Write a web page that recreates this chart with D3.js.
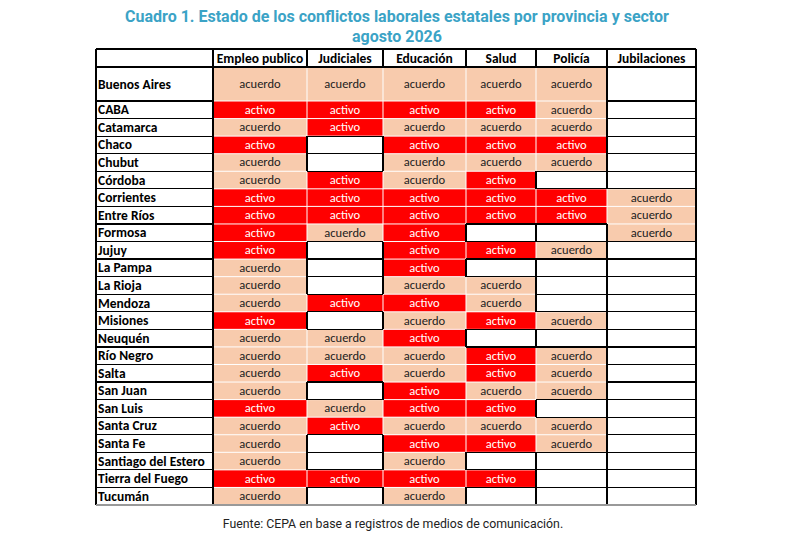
<!DOCTYPE html>
<html>
<head>
<meta charset="utf-8">
<script src="https://cdn.jsdelivr.net/npm/d3@7"></script>
<style>
  body { margin: 0; background: #fff; }
  svg { display: block; }
</style>
</head>
<body>
<div id="chart"></div>
<script>
// sectores (columnas) y provincias (filas)
var sectores = ['Empleo publico', 'Judiciales', 'Educación', 'Salud', 'Policía', 'Jubilaciones'];
var provincias = ['Buenos Aires', 'CABA', 'Catamarca', 'Chaco', 'Chubut', 'Córdoba', 'Corrientes',
  'Entre Ríos', 'Formosa', 'Jujuy', 'La Pampa', 'La Rioja', 'Mendoza', 'Misiones', 'Neuquén',
  'Río Negro', 'Salta', 'San Juan', 'San Luis', 'Santa Cruz', 'Santa Fe', 'Santiago del Estero',
  'Tierra del Fuego', 'Tucumán'];

// estado por sector, en el orden de provincias
var empleoPublico = ['acuerdo','activo','acuerdo','activo','acuerdo','acuerdo','activo','activo','activo','activo','acuerdo','acuerdo','acuerdo','activo','acuerdo','acuerdo','acuerdo','acuerdo','activo','acuerdo','acuerdo','acuerdo','activo','acuerdo'];
var judiciales    = ['acuerdo','activo','activo','','','activo','activo','activo','acuerdo','','','','activo','','acuerdo','acuerdo','activo','','acuerdo','activo','','','activo',''];
var educacion     = ['acuerdo','activo','acuerdo','activo','acuerdo','acuerdo','activo','activo','activo','activo','activo','acuerdo','activo','acuerdo','activo','acuerdo','acuerdo','activo','activo','acuerdo','activo','acuerdo','activo','acuerdo'];
var salud         = ['acuerdo','activo','acuerdo','activo','acuerdo','activo','activo','activo','','activo','','acuerdo','acuerdo','activo','','activo','activo','acuerdo','activo','acuerdo','activo','','activo',''];
var policia       = ['acuerdo','acuerdo','acuerdo','activo','acuerdo','','activo','activo','','acuerdo','','','','acuerdo','','acuerdo','acuerdo','acuerdo','','acuerdo','acuerdo','','',''];
var jubilaciones  = ['','','','','','','acuerdo','acuerdo','acuerdo','','','','','','','','','','','','','','',''];

var valores = [empleoPublico, judiciales, educacion, salud, policia, jubilaciones];

var titulo = ['Cuadro 1. Estado de los conflictos laborales estatales por provincia y sector', 'agosto 2026'];
var fuente = 'Fuente: CEPA en base a registros de medios de comunicación.';

var W = 796, H = 534;
var colores = { activo: '#ff0000', acuerdo: '#f8cbad' };

var svg = d3.select('#chart').append('svg').attr('width', W).attr('height', H);

// bordes de columnas (primera columna = nombres)
var xEdges = [96, 213, 307, 383, 466, 536, 607, 696];
var colKeys = [''].concat(sectores);
var xLeft = d3.scaleOrdinal().domain(colKeys).range(xEdges.slice(0, -1));
var xRight = d3.scaleOrdinal().domain(colKeys).range(xEdges.slice(1));

// filas: cabecera 18px, Buenos Aires mas alta, resto iguales
var top0 = 49, headH = 18, firstH = 34, bottom = 505;
var yRest = d3.scaleBand().domain(provincias.slice(1))
  .range([top0 + headH + firstH, bottom]).padding(0);
function rowTop(p) { return p === provincias[0] ? top0 + headH : yRest(p); }
function rowH(p) { return p === provincias[0] ? firstH : yRest.bandwidth(); }

// celdas
var celdas = [];
provincias.forEach(function(p, i) {
  sectores.forEach(function(s, j) {
    celdas.push({ prov: p, sector: s, i: i, j: j, v: valores[j][i] });
  });
});
function val(i, j) {
  if (i < 0 || i >= provincias.length || j < 0 || j >= sectores.length) return '';
  return valores[j][i];
}

svg.append('g').selectAll('rect')
  .data(celdas.filter(function(d) { return d.v; }))
  .join('rect')
  .attr('x', function(d) { return xLeft(d.sector) + 0.5; })
  .attr('y', function(d) { return rowTop(d.prov) + 0.5; })
  .attr('width', function(d) { return xRight(d.sector) - xLeft(d.sector) - 1; })
  .attr('height', function(d) { return rowH(d.prov) - 1; })
  .attr('fill', function(d) { return colores[d.v]; });

// lineas de la grilla: negras solo donde hay una celda blanca al lado
var lines = svg.append('g').attr('stroke', '#000').attr('stroke-width', 1.2).attr('shape-rendering', 'crispEdges');
// horizontales
var yLines = [top0, top0 + headH].concat(provincias.slice(1).map(rowTop));
yLines.forEach(function(y, k) {
  // k = 0 tope, k = 1 bajo la cabecera, k>=2 entre fila k-2 y k-1
  lines.append('line').attr('x1', xEdges[0]).attr('x2', xEdges[1]).attr('y1', y).attr('y2', y);
  sectores.forEach(function(s, j) {
    var draw = k < 2 || !val(k - 2, j) || !val(k - 1, j);
    if (draw) lines.append('line').attr('x1', xLeft(s)).attr('x2', xRight(s)).attr('y1', y).attr('y2', y);
  });
});
// verticales
xEdges.forEach(function(x, c) {
  lines.append('line').attr('x1', x).attr('x2', x).attr('y1', top0).attr('y2', top0 + headH);
  provincias.forEach(function(p, i) {
    var draw = c <= 1 || c === xEdges.length - 1 || !val(i, c - 2) || !val(i, c - 1);
    if (draw) lines.append('line').attr('x1', x).attr('x2', x)
      .attr('y1', rowTop(p)).attr('y2', rowTop(p) + rowH(p));
  });
});
// borde inferior gris
svg.append('line').attr('x1', xEdges[0]).attr('x2', xEdges[xEdges.length - 1])
  .attr('y1', bottom).attr('y2', bottom).attr('stroke', '#999').attr('stroke-width', 2);

var fontTabla = 'Carlito, Lato, "Liberation Sans Narrow", sans-serif';

// cabecera
svg.append('g').selectAll('text')
  .data(sectores).join('text')
  .attr('x', function(s) { return (xLeft(s) + xRight(s)) / 2; })
  .attr('y', top0 + headH / 2 + 4.5)
  .attr('text-anchor', 'middle')
  .style('font-family', fontTabla).style('font-weight', 'bold').style('font-size', '13.5px')
  .text(function(s) { return s; });

// nombres de provincia
svg.append('g').selectAll('text')
  .data(provincias).join('text')
  .attr('x', xEdges[0] + 2)
  .attr('y', function(p) { return rowTop(p) + rowH(p) / 2 + 4.5; })
  .style('font-family', fontTabla).style('font-weight', 'bold').style('font-size', '13.5px')
  .text(function(p) { return p; });

// textos de celdas
svg.append('g').selectAll('text')
  .data(celdas.filter(function(d) { return d.v; }))
  .join('text')
  .attr('x', function(d) { return (xLeft(d.sector) + xRight(d.sector)) / 2; })
  .attr('y', function(d) { return rowTop(d.prov) + rowH(d.prov) / 2 + 4; })
  .attr('text-anchor', 'middle')
  .attr('fill', function(d) { return d.v === 'activo' ? '#fff' : '#222'; })
  .style('font-family', fontTabla).style('font-size', '12.5px')
  .text(function(d) { return d.v; });

// titulo
svg.append('g').selectAll('text')
  .data(titulo).join('text')
  .attr('x', 397)
  .attr('y', function(d, i) { return 22 + i * 20; })
  .attr('text-anchor', 'middle')
  .attr('fill', '#3ba3c6')
  .style('font-family', 'Roboto, sans-serif').style('font-weight', 'bold').style('font-size', '16px')
  .text(function(d) { return d; });

// fuente
svg.append('text')
  .attr('x', 393).attr('y', 528)
  .attr('text-anchor', 'middle')
  .attr('fill', '#222')
  .style('font-family', 'Roboto, sans-serif').style('font-size', '12.3px')
  .text(fuente);
</script>
</body>
</html>
